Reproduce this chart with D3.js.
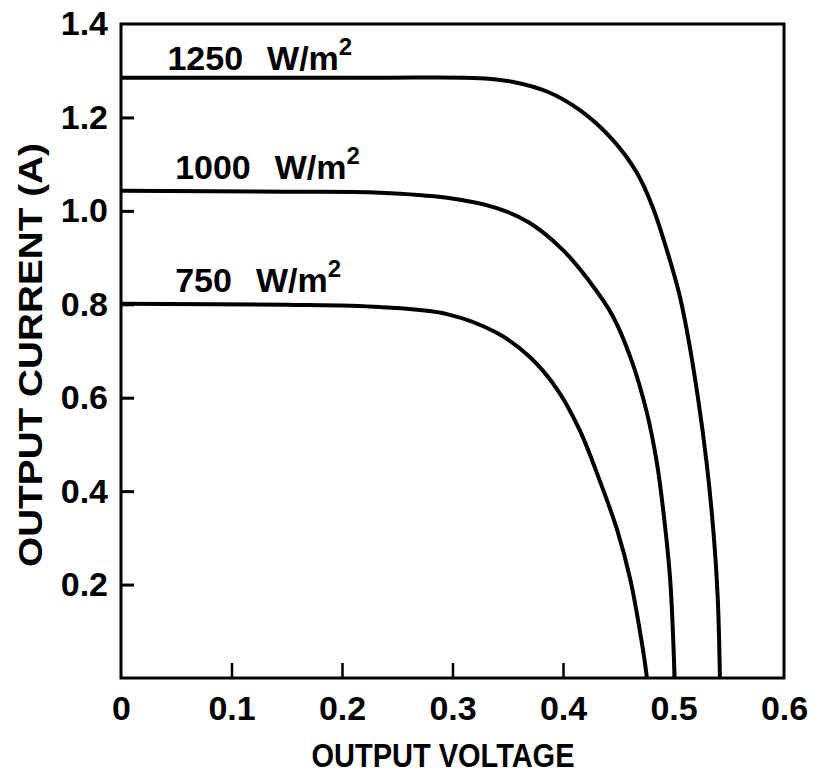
<!DOCTYPE html>
<html>
<head>
<meta charset="utf-8">
<script src="https://cdn.jsdelivr.net/npm/d3@7"></script>
<style>
  body { margin: 0; background: #fff; }
  text { font-family: "Liberation Sans", Arial, sans-serif; font-weight: bold; fill: #000; }
</style>
</head>
<body>
<script>
// irradiance levels (W/m2)
var levels = [1250, 1000, 750];

// output voltage (V) / output current (A)
var voltage1250 = [0, 0.12, 0.234, 0.325, 0.355, 0.386, 0.415, 0.445, 0.467, 0.481, 0.494, 0.505, 0.512, 0.522, 0.530, 0.536, 0.540, 0.542];
var current1250 = [1.285, 1.285, 1.285, 1.284, 1.276, 1.255, 1.216, 1.152, 1.081, 1.009, 0.916, 0.824, 0.745, 0.602, 0.460, 0.317, 0.173, 0];

var voltage1000 = [0, 0.15, 0.234, 0.295, 0.340, 0.370, 0.400, 0.423, 0.445, 0.462, 0.476, 0.485, 0.491, 0.497, 0.501];
var current1000 = [1.043, 1.041, 1.039, 1.028, 1.006, 0.974, 0.916, 0.852, 0.775, 0.680, 0.567, 0.460, 0.353, 0.210, 0];

var voltage750 = [0, 0.15, 0.234, 0.295, 0.340, 0.370, 0.395, 0.415, 0.433, 0.449, 0.461, 0.472, 0.476];
var current750 = [0.801, 0.799, 0.794, 0.779, 0.739, 0.687, 0.617, 0.531, 0.424, 0.317, 0.210, 0.066, 0];

var xTicks = [0, 0.1, 0.2, 0.3, 0.4, 0.5, 0.6];
var yTicks = [0.2, 0.4, 0.6, 0.8, 1.0, 1.2, 1.4];

var series = [
  {level: levels[0], v: voltage1250, i: current1250},
  {level: levels[1], v: voltage1000, i: current1000},
  {level: levels[2], v: voltage750, i: current750}
];

var width = 813, height = 774;

var svg = d3.select("body").append("svg")
    .attr("width", width)
    .attr("height", height);

var x = d3.scaleLinear().domain([0, 0.6]).range([121, 784]);
var y = d3.scaleLinear().domain([0, 1.4]).range([678, 24]);

// plot frame
svg.append("rect")
    .attr("x", x(0))
    .attr("y", y(1.4))
    .attr("width", x(0.6) - x(0))
    .attr("height", y(0) - y(1.4))
    .attr("fill", "none")
    .attr("stroke", "#000")
    .attr("stroke-width", 3);

// x axis, ticks pointing inwards
var xAxis = svg.append("g")
    .attr("transform", "translate(0," + y(0) + ")")
    .call(d3.axisBottom(x)
        .tickValues(xTicks)
        .tickSizeInner(-15)
        .tickSizeOuter(0)
        .tickPadding(18)
        .tickFormat(function(d){ return d === 0 ? "0" : d3.format(".1f")(d); }));
xAxis.select(".domain").remove();
xAxis.selectAll("text").attr("font-size", 34).attr("font-family", null);
xAxis.selectAll(".tick line")
    .attr("stroke-width", 2.5)
    .attr("y2", function(d){ return (d === 0 || d === 0.6) ? 0 : -15; });

// y axis, ticks pointing inwards
var yAxis = svg.append("g")
    .attr("transform", "translate(" + x(0) + ",0)")
    .call(d3.axisLeft(y)
        .tickValues(yTicks)
        .tickSizeInner(-13)
        .tickSizeOuter(0)
        .tickPadding(13)
        .tickFormat(d3.format(".1f")));
yAxis.select(".domain").remove();
yAxis.selectAll("text").attr("font-size", 34).attr("font-family", null);
yAxis.selectAll(".tick line")
    .attr("stroke-width", 3)
    .attr("x2", function(d){ return d === 1.4 ? 0 : 13; });

// curves
var line = d3.line()
    .x(function(d){ return x(d[0]); })
    .y(function(d){ return y(d[1]); })
    .curve(d3.curveCatmullRom.alpha(0.5));

svg.selectAll(".curve")
    .data(series)
    .enter()
    .append("path")
    .attr("class", "curve")
    .attr("d", function(s){ return line(d3.zip(s.v, s.i)); })
    .attr("fill", "none")
    .attr("stroke", "#000")
    .attr("stroke-width", 4);

// curve labels
var labels = svg.selectAll(".lbl")
    .data(series)
    .enter()
    .append("text")
    .attr("class", "lbl")
    .attr("x", function(s, k){ return x(k === 0 ? 0.042 : 0.049); })
    .attr("y", function(s, k){ return y(s.i[0]) - (k === 0 ? 8 : 12); })
    .attr("font-size", 34);
labels.append("tspan").text(function(s){ return s.level; });
labels.append("tspan").attr("dx", 24).text("W/m");
labels.append("tspan").attr("font-size", 24).attr("dy", -15).text("2");

// axis titles
svg.append("text")
    .attr("x", 443)
    .attr("y", 767)
    .attr("text-anchor", "middle")
    .attr("font-size", 34)
    .attr("textLength", 263)
    .attr("lengthAdjust", "spacingAndGlyphs")
    .text("OUTPUT VOLTAGE");

svg.append("text")
    .attr("transform", "translate(42,355) rotate(-90)")
    .attr("text-anchor", "middle")
    .attr("font-size", 34)
    .attr("textLength", 424)
    .attr("lengthAdjust", "spacingAndGlyphs")
    .text("OUTPUT CURRENT (A)");
</script>
</body>
</html>
